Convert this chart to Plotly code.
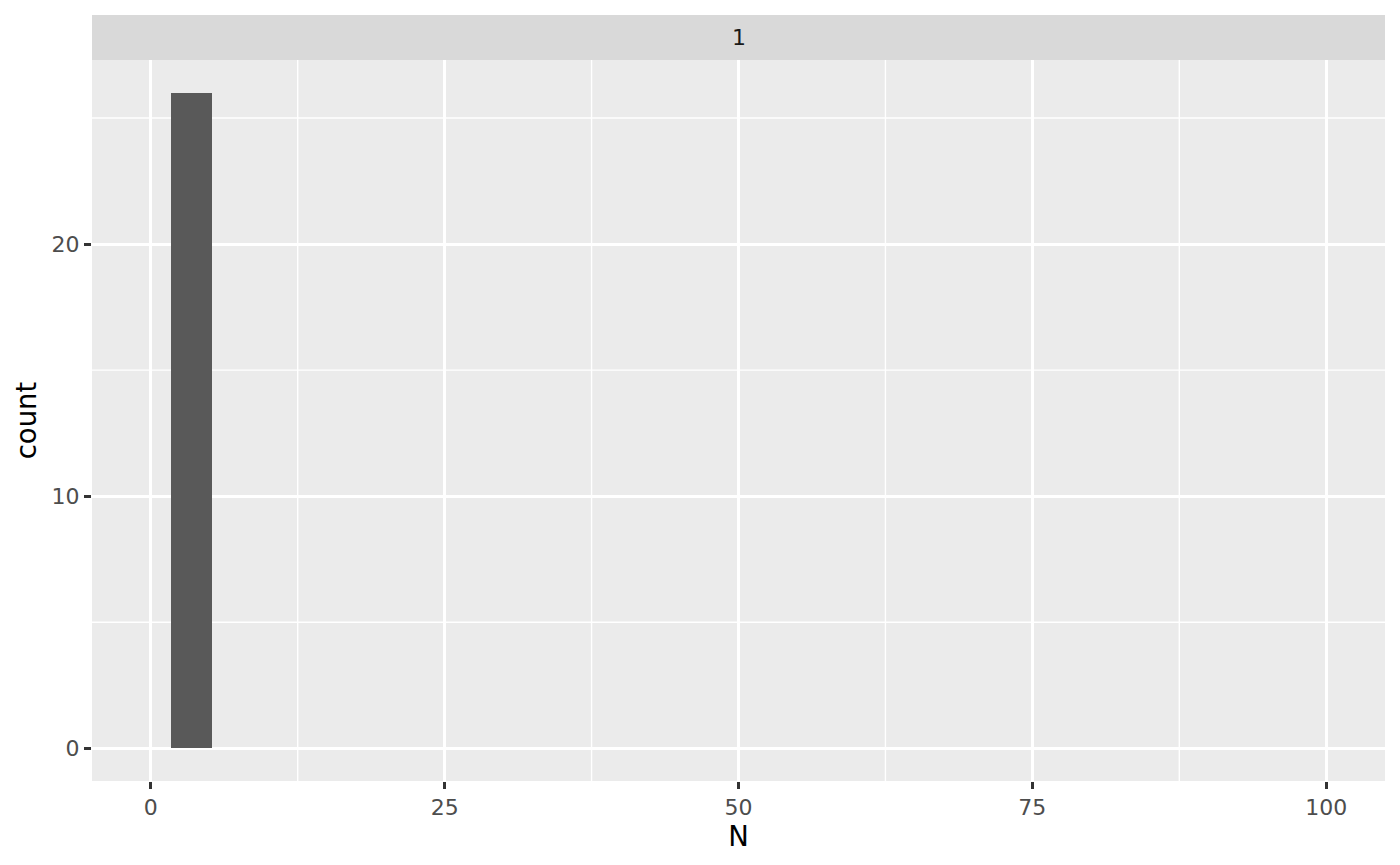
import plotly.graph_objects as go

# histogram of N, faceted by a single group "1" (30 bins over 0..100)
facet_label = "1"
bin_width = 100 / 29
bin_centers = [bin_width * k for k in range(1, 29)]
bin_counts = [26] + [0] * 27

x_ticks = [0, 25, 50, 75, 100]
y_ticks = [0, 10, 20]

FONT = "DejaVu Sans"

fig = go.Figure()
fig.add_trace(go.Bar(
    x=bin_centers,
    y=bin_counts,
    width=bin_width,
    marker=dict(color="#595959", line=dict(width=0)),
    hoverinfo="x+y",
))

# minor grid lines drawn as shapes (ggplot style)
for xm in [12.5, 37.5, 62.5, 87.5]:
    fig.add_shape(type="line", xref="x", yref="paper", x0=xm, x1=xm, y0=0, y1=1,
                  line=dict(color="white", width=1.4), layer="below")
for ym in [5, 15, 25]:
    fig.add_shape(type="line", xref="paper", yref="y", x0=0, x1=1, y0=ym, y1=ym,
                  line=dict(color="white", width=1.4), layer="below")

# facet strip
strip_h = 45 / 721
fig.add_shape(type="rect", xref="paper", yref="paper", x0=0, x1=1, y0=1, y1=1 + strip_h,
              fillcolor="#D9D9D9", line=dict(width=0))
fig.add_annotation(text=facet_label, xref="paper", yref="paper", x=0.5, y=1 + strip_h / 2,
                   xanchor="center", yanchor="middle", showarrow=False,
                   font=dict(family=FONT, size=22, color="#1A1A1A"))

# page body has an 8px margin, so the figure is 8px smaller than the window
fig.update_layout(
    width=1392, height=857,
    margin=dict(l=84, r=15, t=52, b=84),
    paper_bgcolor="white",
    plot_bgcolor="#EBEBEB",
    showlegend=False,
    bargap=0,
    font=dict(family=FONT),
)
fig.update_xaxes(
    range=[-5, 105], tickvals=x_ticks, ticktext=[str(v) for v in x_ticks],
    showgrid=True, gridcolor="white", gridwidth=2.7, zeroline=False,
    ticks="outside", ticklen=7, tickwidth=2.5, tickcolor="#333333",
    tickfont=dict(family=FONT, size=22, color="#4D4D4D"),
    title=dict(text="N", font=dict(family=FONT, size=27.5, color="black"), standoff=0),
    showline=False,
)
fig.update_yaxes(
    range=[-1.3, 27.3], tickvals=y_ticks, ticktext=[str(v) for v in y_ticks],
    showgrid=True, gridcolor="white", gridwidth=2.7, zeroline=False,
    ticks="outside", ticklen=7, tickwidth=2.5, tickcolor="#333333",
    tickfont=dict(family=FONT, size=22, color="#4D4D4D"),
    title=dict(text="count", font=dict(family=FONT, size=27.5, color="black"), standoff=6),
    showline=False,
)

fig.write_html("out.html")
